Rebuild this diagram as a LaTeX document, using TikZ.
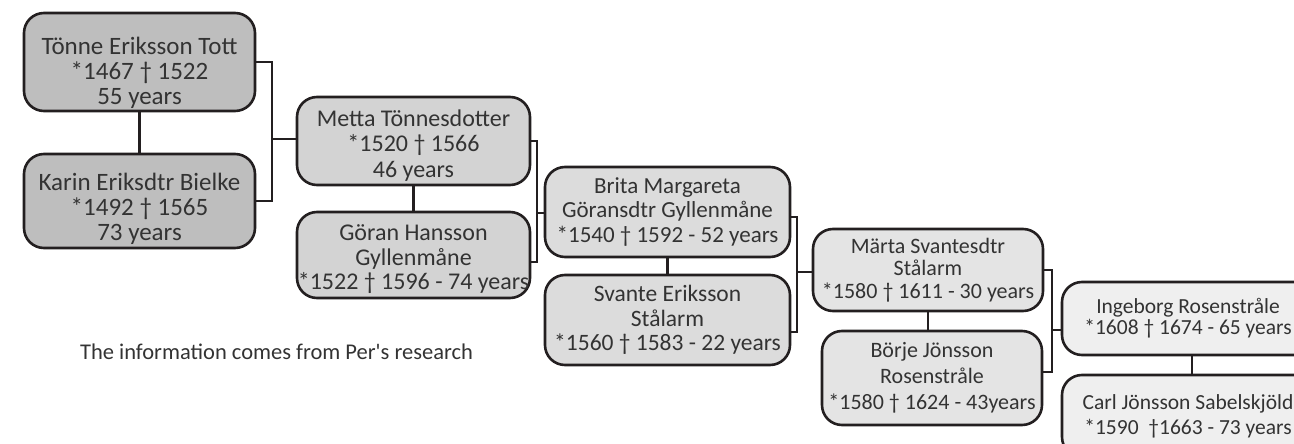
\documentclass[tikz,border=0pt]{standalone}
\usepackage{fontspec}
\setmainfont{Carlito}[Ligatures=TeXOff]
\definecolor{linegray}{HTML}{231F20}
\definecolor{textgray}{HTML}{333333}
\definecolor{gena}{HTML}{BEBEBE}
\definecolor{genb}{HTML}{D3D3D3}
\definecolor{genc}{HTML}{DCDCDC}
\definecolor{gend}{HTML}{E4E4E4}
\definecolor{gene}{HTML}{EFEFEF}
\newcommand\lift[1]{\rule{0pt}{#1}}
\tikzset{
	person/.style={draw=linegray, line width=2.6pt, rounded corners=20pt, inner sep=0pt,
		align=center, text=textgray, font=\fontsize{23}{24.5}\selectfont},
	link/.style={draw=linegray, line width=2.3pt}
}
\begin{document}
\begin{tikzpicture}[x=1pt,y=-1pt]
		\useasboundingbox (0,0) rectangle (1294,444);
		\clip (0,0) rectangle (1294,444);
		% first generation
		\node[person, fill=gena, minimum width=231pt, minimum height=98pt, font=\fontsize{25}{25}\selectfont] (toenne) at (139.5,62) {\lift{40pt}Tönne Eriksson Tott\\*1467 † 1522\\55 years};
		\node[person, fill=gena, minimum width=231pt, minimum height=94pt, font=\fontsize{25}{25}\selectfont] (karin) at (139.5,201) {\lift{34pt}Karin Eriksdtr Bielke\\*1492 † 1565\\73 years};
		% second generation
		\node[person, fill=genb, minimum width=233pt, minimum height=88pt, font=\fontsize{24}{25.5}\selectfont] (metta) at (413.5,141) {\lift{25pt}Metta Tönnesdotter\\*1520 † 1566\\46 years};
		\node[person, fill=genb, minimum width=233pt, minimum height=86pt, font=\fontsize{24}{24.5}\selectfont] (goeran) at (413.5,255) {\lift{25pt}Göran Hansson\\Gyllenmåne\\*1522 † 1596 - 74 years};
		% third generation
		\node[person, fill=genc, minimum width=245pt, minimum height=90pt, font=\fontsize{23}{24.5}\selectfont] (brita) at (667.5,212) {Brita Margareta\\Göransdtr Gyllenmåne\\*1540 † 1592 - 52 years};
		\node[person, fill=genc, minimum width=245pt, minimum height=90pt, font=\fontsize{23.5}{24.5}\selectfont] (svante) at (667.5,320) {Svante Eriksson\\Stålarm\\*1560 † 1583 - 22 years};
		% fourth generation
		\node[person, fill=gend, minimum width=230pt, minimum height=82pt, font=\fontsize{22}{22.5}\selectfont] (maerta) at (928,270) {Märta Svantesdtr\\Stålarm\\*1580 † 1611 - 30 years};
		\node[person, fill=gend, minimum width=220pt, minimum height=94pt, font=\fontsize{22}{26}\selectfont] (boerje) at (932,378) {Börje Jönsson\\Rosenstråle\\*1580 † 1624 - 43years};
		% fifth generation
		\node[person, fill=gene, minimum width=252pt, minimum height=73pt, font=\fontsize{21.5}{21}\selectfont] (ingeborg) at (1188,318.5) {Ingeborg Rosenstråle\\*1608 † 1674 - 65 years};
		\node[person, fill=gene, minimum width=252pt, minimum height=82pt, font=\fontsize{21.5}{25}\selectfont] (carl) at (1188,416) {Carl Jönsson Sabelskjöld\\*1590\ \ †1663 - 73 years};
		\node[text=textgray, font=\fontsize{22.5}{24}\selectfont] (note) at (276.5,352) {The information comes from Per's research};
		% couples
		\draw[link] (toenne.south) -- (karin.north);
		\draw[link] (metta.south) -- (goeran.north);
		\draw[link] (brita.south) -- (svante.north);
		\draw[link] (maerta.south) -- (maerta.south |- boerje.north);
		\draw[link] ([xshift=4pt]ingeborg.south) -- ([xshift=4pt]carl.north);
		% descent
		\coordinate (j1) at (272,139);
		\coordinate (j2) at (537,213);
		\coordinate (j3) at (797,272);
		\coordinate (j4) at (1052,330);
		\draw[link] (toenne.east) -| (j1) |- (karin.east);
		\draw[link] (j1) -- (j1 -| metta.west);
		\draw[link] (metta.east) -| (j2) |- ([yshift=-7pt]goeran.east);
		\draw[link] (j2) -- (j2 -| brita.west);
		\draw[link] ([yshift=-5pt]brita.east) -| (j3) |- ([yshift=-12pt]svante.east);
		\draw[link] (j3) -- (j3 -| maerta.west);
		\draw[link] (maerta.east) -| (j4) |- ([yshift=6pt]boerje.east);
		\draw[link] (j4) -- (j4 -| ingeborg.west);
\end{tikzpicture}
\end{document}
